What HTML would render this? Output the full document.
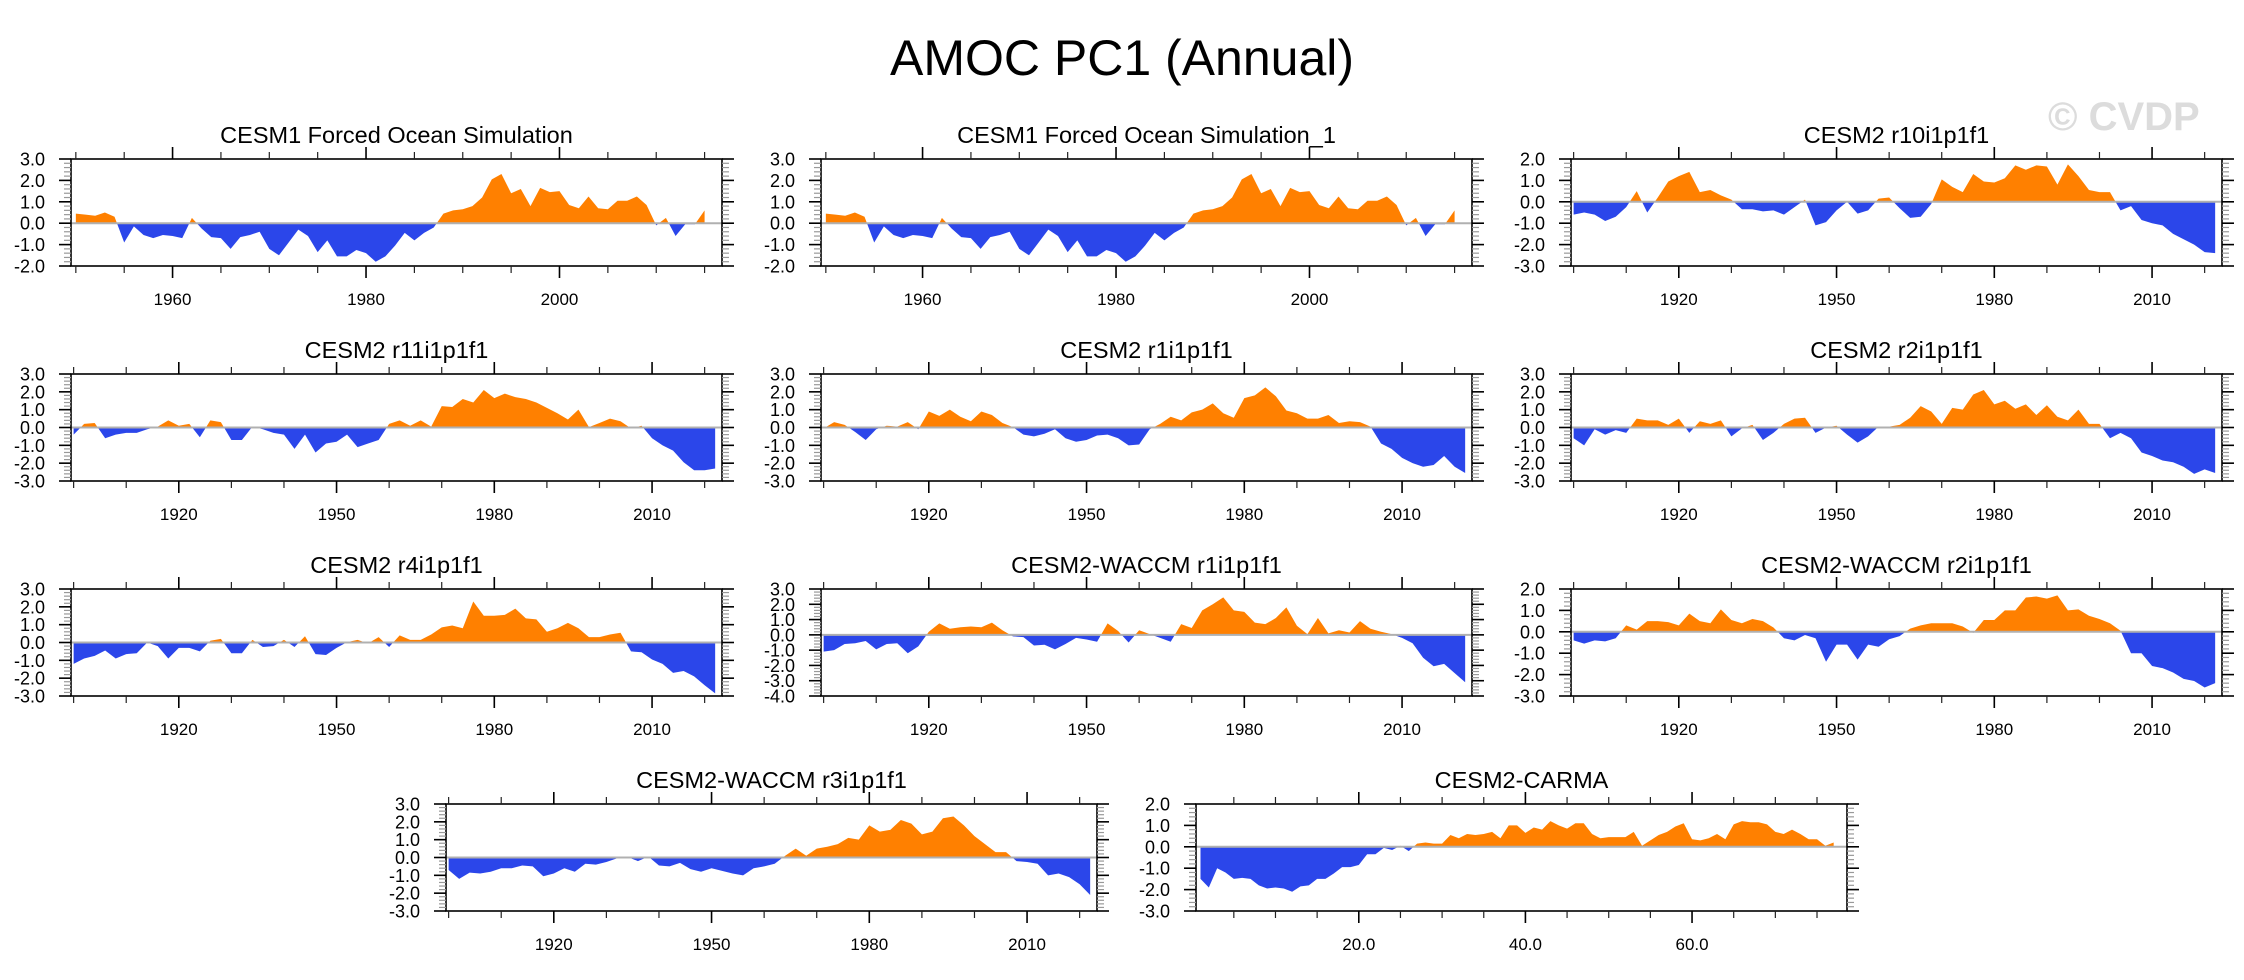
<!DOCTYPE html>
<html>
<head>
<meta charset="utf-8">
<style>
html,body{margin:0;padding:0;background:#fff;}
svg{display:block;font-family:"Liberation Sans",Arial,sans-serif;}
</style>
</head>
<body>
<svg id="fig" width="2244" height="980" viewBox="0 0 2244 980" xmlns="http://www.w3.org/2000/svg">
<rect x="0" y="0" width="2244" height="980" fill="#fff"/>
<text x="1122" y="75" text-anchor="middle" font-size="50" fill="#000">AMOC PC1 (Annual)</text>
<text x="2048" y="130" font-size="40" font-weight="bold" fill="#dcdcdc">© CVDP</text>
<defs id="defs"></defs>
<g id="panels"></g>
</svg>
<script>
const cesm1Years = [1950,1951,1952,1953,1954,1955,1956,1957,1958,1959,1960,1961,1962,1963,1964,1965,1966,1967,1968,1969,1970,1971,1972,1973,1974,1975,1976,1977,1978,1979,1980,1981,1982,1983,1984,1985,1986,1987,1988,1989,1990,1991,1992,1993,1994,1995,1996,1997,1998,1999,2000,2001,2002,2003,2004,2005,2006,2007,2008,2009,2010,2011,2012,2013,2014,2015];
const cesm1Forced = [0.45,0.4,0.35,0.5,0.3,-0.9,-0.15,-0.55,-0.7,-0.55,-0.6,-0.7,0.25,-0.25,-0.65,-0.7,-1.2,-0.65,-0.55,-0.4,-1.2,-1.5,-0.9,-0.3,-0.6,-1.35,-0.8,-1.55,-1.55,-1.25,-1.4,-1.8,-1.55,-1.05,-0.45,-0.8,-0.45,-0.2,0.45,0.6,0.65,0.8,1.2,2.05,2.3,1.4,1.6,0.8,1.65,1.45,1.5,0.85,0.7,1.25,0.7,0.65,1.05,1.05,1.25,0.85,-0.1,0.25,-0.6,-0.05,-0.05,0.6];
const cesm1Forced1 = [0.45,0.4,0.35,0.5,0.3,-0.9,-0.15,-0.55,-0.7,-0.55,-0.6,-0.7,0.25,-0.25,-0.65,-0.7,-1.2,-0.65,-0.55,-0.4,-1.2,-1.5,-0.9,-0.3,-0.6,-1.35,-0.8,-1.55,-1.55,-1.25,-1.4,-1.8,-1.55,-1.05,-0.45,-0.8,-0.45,-0.2,0.45,0.6,0.65,0.8,1.2,2.05,2.3,1.4,1.6,0.8,1.65,1.45,1.5,0.85,0.7,1.25,0.7,0.65,1.05,1.05,1.25,0.85,-0.1,0.25,-0.6,-0.05,-0.05,0.6];
const cesm2Years = [1900,1902,1904,1906,1908,1910,1912,1914,1916,1918,1920,1922,1924,1926,1928,1930,1932,1934,1936,1938,1940,1942,1944,1946,1948,1950,1952,1954,1956,1958,1960,1962,1964,1966,1968,1970,1972,1974,1976,1978,1980,1982,1984,1986,1988,1990,1992,1994,1996,1998,2000,2002,2004,2006,2008,2010,2012,2014,2016,2018,2020,2022];
const cesm2R10 = [-0.6,-0.5,-0.6,-0.9,-0.7,-0.25,0.5,-0.5,0.2,0.95,1.2,1.4,0.45,0.55,0.3,0.1,-0.35,-0.35,-0.45,-0.4,-0.6,-0.25,0.1,-1.1,-0.95,-0.4,0.0,-0.55,-0.4,0.15,0.2,-0.3,-0.75,-0.7,-0.1,1.05,0.7,0.45,1.3,0.95,0.9,1.1,1.7,1.5,1.7,1.65,0.8,1.75,1.2,0.55,0.45,0.45,-0.4,-0.2,-0.85,-1.0,-1.1,-1.5,-1.75,-2.0,-2.35,-2.4];
const cesm2R11 = [-0.4,0.2,0.25,-0.6,-0.4,-0.3,-0.3,-0.1,0.05,0.4,0.1,0.2,-0.55,0.4,0.3,-0.7,-0.7,0.05,-0.1,-0.3,-0.4,-1.2,-0.4,-1.4,-0.9,-0.8,-0.4,-1.1,-0.9,-0.7,0.2,0.4,0.1,0.4,0.05,1.2,1.15,1.6,1.4,2.1,1.65,1.9,1.7,1.6,1.4,1.1,0.8,0.45,1.0,0.02,0.25,0.5,0.35,-0.05,0.1,-0.6,-1.0,-1.3,-1.95,-2.4,-2.4,-2.3];
const cesm2R1 = [-0.05,0.3,0.15,-0.25,-0.7,-0.1,0.1,0.05,0.3,-0.1,0.9,0.65,1.0,0.6,0.35,0.9,0.7,0.25,0.02,-0.4,-0.5,-0.35,-0.1,-0.6,-0.8,-0.7,-0.45,-0.4,-0.6,-1.0,-0.95,-0.1,0.2,0.6,0.4,0.85,1.0,1.35,0.8,0.55,1.65,1.8,2.25,1.75,0.95,0.8,0.5,0.5,0.7,0.25,0.35,0.3,0.05,-0.9,-1.2,-1.7,-2.0,-2.2,-2.1,-1.6,-2.2,-2.55];
const cesm2R2 = [-0.6,-1.0,-0.1,-0.4,-0.15,-0.3,0.5,0.4,0.4,0.15,0.5,-0.3,0.35,0.2,0.4,-0.5,-0.05,0.15,-0.7,-0.3,0.2,0.5,0.55,-0.3,0.0,0.1,-0.4,-0.85,-0.5,0.05,0.05,0.15,0.55,1.2,0.9,0.2,1.1,1.0,1.85,2.1,1.3,1.5,1.05,1.3,0.7,1.25,0.6,0.4,1.0,0.2,0.2,-0.6,-0.3,-0.6,-1.4,-1.6,-1.85,-1.95,-2.2,-2.6,-2.35,-2.55];
const cesm2R4 = [-1.2,-0.9,-0.75,-0.45,-0.9,-0.65,-0.6,0.0,-0.2,-0.9,-0.3,-0.3,-0.5,0.1,0.2,-0.6,-0.6,0.15,-0.25,-0.2,0.15,-0.25,0.35,-0.65,-0.7,-0.3,0.02,0.15,-0.05,0.3,-0.25,0.4,0.15,0.15,0.45,0.85,0.95,0.8,2.3,1.5,1.5,1.55,1.9,1.35,1.3,0.6,0.8,1.1,0.8,0.3,0.3,0.45,0.55,-0.5,-0.55,-0.95,-1.2,-1.7,-1.6,-1.9,-2.4,-2.85];
const waccmR1 = [-1.1,-1.0,-0.6,-0.55,-0.4,-0.95,-0.6,-0.55,-1.2,-0.75,0.2,0.75,0.4,0.5,0.55,0.5,0.8,0.3,-0.1,-0.15,-0.7,-0.65,-0.95,-0.6,-0.2,-0.3,-0.45,0.75,0.25,-0.5,0.3,0.05,-0.2,-0.45,0.7,0.45,1.6,2.0,2.45,1.6,1.5,0.8,0.7,1.1,1.8,0.6,0.05,1.1,0.1,0.3,0.15,0.9,0.4,0.2,0.05,-0.2,-0.55,-1.5,-2.05,-1.9,-2.5,-3.1];
const waccmR2 = [-0.4,-0.55,-0.4,-0.45,-0.3,0.3,0.1,0.5,0.5,0.45,0.3,0.85,0.5,0.4,1.05,0.55,0.4,0.6,0.5,0.2,-0.3,-0.4,-0.15,-0.3,-1.4,-0.6,-0.6,-1.3,-0.6,-0.7,-0.35,-0.2,0.15,0.3,0.4,0.4,0.4,0.25,-0.05,0.55,0.55,1.0,1.0,1.6,1.65,1.55,1.7,1.0,1.05,0.75,0.6,0.4,0.05,-1.0,-1.0,-1.6,-1.7,-1.9,-2.2,-2.3,-2.6,-2.4];
const waccmR3 = [-0.7,-1.2,-0.85,-0.9,-0.8,-0.6,-0.6,-0.45,-0.5,-1.05,-0.9,-0.6,-0.8,-0.35,-0.4,-0.25,-0.05,0.03,-0.2,0.05,-0.45,-0.5,-0.3,-0.65,-0.8,-0.6,-0.75,-0.9,-1.0,-0.6,-0.5,-0.35,0.1,0.5,0.1,0.5,0.6,0.75,1.1,1.0,1.8,1.45,1.55,2.1,1.9,1.3,1.45,2.2,2.3,1.8,1.2,0.75,0.3,0.3,-0.2,-0.25,-0.35,-1.0,-0.9,-1.1,-1.5,-2.1];
const carmaTime = [1,2,3,4,5,6,7,8,9,10,11,12,13,14,15,16,17,18,19,20,21,22,23,24,25,26,27,28,29,30,31,32,33,34,35,36,37,38,39,40,41,42,43,44,45,46,47,48,49,50,51,52,53,54,55,56,57,58,59,60,61,62,63,64,65,66,67,68,69,70,71,72,73,74,75,76,77];
const carma = [-1.5,-1.9,-1.0,-1.2,-1.5,-1.45,-1.5,-1.8,-1.95,-1.9,-1.95,-2.1,-1.85,-1.8,-1.5,-1.5,-1.25,-0.95,-0.95,-0.85,-0.35,-0.35,-0.05,-0.15,0.05,-0.2,0.15,0.2,0.15,0.15,0.55,0.4,0.6,0.55,0.6,0.7,0.4,1.0,1.0,0.65,0.9,0.8,1.2,1.0,0.85,1.1,1.1,0.6,0.4,0.45,0.45,0.45,0.7,0.05,0.3,0.55,0.7,0.95,1.1,0.35,0.3,0.4,0.6,0.35,1.05,1.2,1.15,1.15,1.05,0.7,0.6,0.8,0.6,0.35,0.35,0.05,0.2];

const cesm1MajorTicks = [1960,1980,2000];
const cesm1TickLabels = ["1960","1980","2000"];
const cesm1MinorTicks = [1950,1955,1965,1970,1975,1985,1990,1995,2005,2010,2015];
const cesm2MajorTicks = [1920,1950,1980,2010];
const cesm2TickLabels = ["1920","1950","1980","2010"];
const cesm2MinorTicks = [1900,1910,1930,1940,1960,1970,1990,2000,2020];
const carmaMajorTicks = [20,40,60];
const carmaTickLabels = ["20.0","40.0","60.0"];
const carmaMinorTicks = [5,10,15,25,30,35,45,50,55,65,70,75];

const NS = "http://www.w3.org/2000/svg";
const W = 651, H = 107;
const cesm1X = [1949.5, 2016.8], cesm2X = [1899.5, 2023.3], carmaX = [0.46, 78.6];
const cesm1Axis = {dom: cesm1X, major: cesm1MajorTicks, labels: cesm1TickLabels, minor: cesm1MinorTicks};
const cesm2Axis = {dom: cesm2X, major: cesm2MajorTicks, labels: cesm2TickLabels, minor: cesm2MinorTicks};
const carmaAxis = {dom: carmaX, major: carmaMajorTicks, labels: carmaTickLabels, minor: carmaMinorTicks};

const panels = [
  {id:"cesm1-forced", title:"CESM1 Forced Ocean Simulation", x:71, y:159, ax:cesm1Axis, ydom:[-2,3], xs:cesm1Years, ys:cesm1Forced},
  {id:"cesm1-forced-1", title:"CESM1 Forced Ocean Simulation_1", x:821, y:159, ax:cesm1Axis, ydom:[-2,3], xs:cesm1Years, ys:cesm1Forced1},
  {id:"cesm2-r10", title:"CESM2 r10i1p1f1", x:1571, y:159, ax:cesm2Axis, ydom:[-3,2], xs:cesm2Years, ys:cesm2R10},
  {id:"cesm2-r11", title:"CESM2 r11i1p1f1", x:71, y:374, ax:cesm2Axis, ydom:[-3,3], xs:cesm2Years, ys:cesm2R11},
  {id:"cesm2-r1", title:"CESM2 r1i1p1f1", x:821, y:374, ax:cesm2Axis, ydom:[-3,3], xs:cesm2Years, ys:cesm2R1},
  {id:"cesm2-r2", title:"CESM2 r2i1p1f1", x:1571, y:374, ax:cesm2Axis, ydom:[-3,3], xs:cesm2Years, ys:cesm2R2},
  {id:"cesm2-r4", title:"CESM2 r4i1p1f1", x:71, y:589, ax:cesm2Axis, ydom:[-3,3], xs:cesm2Years, ys:cesm2R4},
  {id:"waccm-r1", title:"CESM2-WACCM r1i1p1f1", x:821, y:589, ax:cesm2Axis, ydom:[-4,3], xs:cesm2Years, ys:waccmR1},
  {id:"waccm-r2", title:"CESM2-WACCM r2i1p1f1", x:1571, y:589, ax:cesm2Axis, ydom:[-3,2], xs:cesm2Years, ys:waccmR2},
  {id:"waccm-r3", title:"CESM2-WACCM r3i1p1f1", x:446, y:804, ax:cesm2Axis, ydom:[-3,3], xs:cesm2Years, ys:waccmR3},
  {id:"cesm2-carma", title:"CESM2-CARMA", x:1196, y:804, ax:carmaAxis, ydom:[-3,2], xs:carmaTime, ys:carma}
];

const root = document.getElementById("panels");
const defs = document.getElementById("defs");
function mk(tag, attrs, parent) {
  const e = document.createElementNS(NS, tag);
  for (const k in attrs) e.setAttribute(k, attrs[k]);
  parent.appendChild(e);
  return e;
}

panels.forEach(p => {
  const g = mk("g", {}, root);
  
  
  const xs = v => p.x + (v - p.ax.dom[0]) / (p.ax.dom[1] - p.ax.dom[0]) * W;
  const ys = v => p.y + (p.ydom[1] - v) / (p.ydom[1] - p.ydom[0]) * H;
  const y0 = ys(0);

  const t = mk("text", {x: p.x + W/2, y: p.y - 16, "text-anchor": "middle", "font-size": 23.5, fill: "#000"}, g);
  t.textContent = p.title;
  
  

  // clip paths
  const cpPos = mk("clipPath", {id: p.id + "-pos"}, defs);
  mk("rect", {x: p.x, y: p.y, width: W, height: y0 - p.y}, cpPos);
  const cpNeg = mk("clipPath", {id: p.id + "-neg"}, defs);
  mk("rect", {x: p.x, y: y0, width: W, height: p.y + H - y0}, cpNeg);

  let d = "M" + xs(p.xs[0]).toFixed(2) + "," + y0.toFixed(2);
  for (let i = 0; i < p.ys.length; i++) d += " L" + xs(p.xs[i]).toFixed(2) + "," + ys(p.ys[i]).toFixed(2);
  d += " L" + xs(p.xs[p.xs.length - 1]).toFixed(2) + "," + y0.toFixed(2) + " Z";
  const pos = mk("path", {d: d, fill: "#ff8000", "clip-path": "url(#" + p.id + "-pos)"}, g);
  
  
  const neg = mk("path", {d: d, fill: "#2b46ea", "clip-path": "url(#" + p.id + "-neg)"}, g);
  
  

  const zl = mk("line", {x1: p.x, x2: p.x + W, y1: y0, y2: y0, stroke: "#b0b0b0", "stroke-width": 2}, g);
  
  

  const box = mk("rect", {x: p.x, y: p.y, width: W, height: H, fill: "none", stroke: "#000", "stroke-width": 1.6}, g);
  
  

  // y ticks
  const yax = mk("g", {}, g);
  
  
  for (let k = Math.round(p.ydom[0] * 5); k <= Math.round(p.ydom[1] * 5); k++) {
    const v = k / 5, yy = ys(v), major = (k % 5 === 0);
    const len = major ? 12 : 7;
    const st = major ? "#000" : "#999";
    const sw = major ? 1.6 : 1.2;
    mk("line", {x1: p.x - len, x2: p.x, y1: yy, y2: yy, stroke: st, "stroke-width": sw}, yax);
    mk("line", {x1: p.x + W, x2: p.x + W + len, y1: yy, y2: yy, stroke: st, "stroke-width": sw}, yax);
    if (major) {
      const lt = mk("text", {x: p.x - 26, y: yy + 6.5, "text-anchor": "end", "font-size": 18, fill: "#000"}, yax);
      lt.textContent = v.toFixed(1);
      
      
    }
  }
  // x ticks
  const xax = mk("g", {}, g);
  
  
  p.ax.minor.forEach(v => {
    const xx = xs(v);
    mk("line", {x1: xx, x2: xx, y1: p.y - 7, y2: p.y, stroke: "#222", "stroke-width": 1.2}, xax);
    mk("line", {x1: xx, x2: xx, y1: p.y + H, y2: p.y + H + 7, stroke: "#222", "stroke-width": 1.2}, xax);
  });
  p.ax.major.forEach((v, i) => {
    const xx = xs(v);
    mk("line", {x1: xx, x2: xx, y1: p.y - 12, y2: p.y, stroke: "#000", "stroke-width": 1.6}, xax);
    mk("line", {x1: xx, x2: xx, y1: p.y + H, y2: p.y + H + 12, stroke: "#000", "stroke-width": 1.6}, xax);
    const lt = mk("text", {x: xx, y: p.y + H + 39, "text-anchor": "middle", "font-size": 17, fill: "#000"}, xax);
    lt.textContent = p.ax.labels[i];
    
    
  });
});
</script>
</body>
</html>
